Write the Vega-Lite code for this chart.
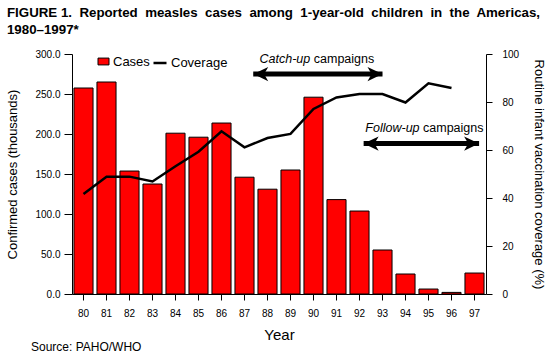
{
  "$schema": "https://vega.github.io/schema/vega-lite/v6.json",
  "padding": {"left": 6, "top": 6, "right": 5, "bottom": 0},
  "background": "white",
  "config": {
    "font": "Liberation Sans",
    "view": {"stroke": null},
    "axis": {"domainColor": "black", "tickColor": "black", "labelColor": "black", "titleColor": "black", "grid": false, "labelFont": "Liberation Sans", "titleFont": "Liberation Sans", "titleFontWeight": "normal"},
    "legend": {"labelFont": "Liberation Sans", "labelColor": "black", "labelFontSize": 13, "labelOffset": 3, "padding": 0},
    "title": {"font": "Liberation Sans", "color": "black"}
  },
  "title": {
    "text": ["FIGURE 1.\u00a0 Reported\u00a0 measles\u00a0 cases\u00a0 among\u00a0 1-year-old\u00a0 children\u00a0 in\u00a0 the\u00a0 Americas,", "1980–1997*"],
    "anchor": "start",
    "frame": "bounds",
    "fontSize": 13.3,
    "fontWeight": "bold",
    "lineHeight": 16.5,
    "offset": 13
  },
  "vconcat": [
    {
      "width": 414,
      "height": 240,
      "title": {
        "text": "Source: PAHO/WHO",
        "orient": "bottom",
        "anchor": "start",
        "frame": "bounds",
        "fontSize": 12,
        "fontWeight": "normal",
        "dx": 24,
        "offset": 0
      },
      "data": {
        "values": [
          {"year": 80, "cases": 257.5, "coverage": 41.7},
          {"year": 81, "cases": 265, "coverage": 48.9},
          {"year": 82, "cases": 153.7, "coverage": 48.9},
          {"year": 83, "cases": 137.5, "coverage": 46.9},
          {"year": 84, "cases": 201, "coverage": 53.2},
          {"year": 85, "cases": 196, "coverage": 59.3},
          {"year": 86, "cases": 213.7, "coverage": 67.8},
          {"year": 87, "cases": 146, "coverage": 61.1},
          {"year": 88, "cases": 131, "coverage": 65},
          {"year": 89, "cases": 155, "coverage": 66.7},
          {"year": 90, "cases": 246, "coverage": 77.1},
          {"year": 91, "cases": 118, "coverage": 81.9},
          {"year": 92, "cases": 103.7, "coverage": 83.3},
          {"year": 93, "cases": 55, "coverage": 83.3},
          {"year": 94, "cases": 25, "coverage": 79.8},
          {"year": 95, "cases": 6.2, "coverage": 87.8},
          {"year": 96, "cases": 2.0, "coverage": 85.8},
          {"year": 97, "cases": 26.2, "coverage": null}
        ]
      },
      "resolve": {"scale": {"x": "independent", "y": "independent"}},
      "layer": [
        {
          "mark": {"type": "bar", "stroke": "black", "strokeWidth": 1},
          "encoding": {
            "x": {
              "field": "year", "type": "ordinal",
              "scale": {"paddingInner": 0.17, "paddingOuter": 0.085},
              "axis": {"title": "Year", "labelAngle": 0, "labelFontSize": 10, "tickSize": 6, "labelPadding": 8, "titleFontSize": 15, "titlePadding": 9}
            },
            "y": {
              "field": "cases", "type": "quantitative",
              "scale": {"domain": [0, 300], "nice": false},
              "axis": {"orient": "left", "title": "Confirmed cases (thousands)", "values": [0, 50, 100, 150, 200, 250, 300], "format": ".1f", "labelFontSize": 10, "tickSize": 8, "labelPadding": 4, "titleFontSize": 13, "titlePadding": 15}
            },
            "fill": {
              "datum": "Cases",
              "scale": {"domain": ["Cases"], "range": ["#ff0000"]},
              "legend": {
                "orient": "none", "legendX": 25, "legendY": 1, "title": null,
                "symbolType": "M-1,-0.62H1V0.62H-1Z", "symbolSize": 121,
                "symbolStrokeColor": "black", "symbolStrokeWidth": 1, "symbolFillColor": "#ff0000"
              }
            }
          }
        },
        {
          "mark": {"type": "line", "strokeWidth": 2.5},
          "encoding": {
            "x": {"field": "year", "type": "quantitative", "scale": {"domain": [79.5, 97.5], "nice": false, "zero": false}, "axis": null},
            "y": {
              "field": "coverage", "type": "quantitative",
              "scale": {"domain": [0, 100], "nice": false},
              "axis": {"orient": "right", "title": "Routine infant vaccination coverage (%)", "values": [0, 20, 40, 60, 80, 100], "labelFontSize": 10, "tickSize": 6, "labelPadding": 10, "titleFontSize": 13, "titlePadding": 13}
            },
            "stroke": {
              "datum": "Coverage",
              "scale": {"domain": ["Coverage"], "range": ["#000000"]},
              "legend": {
                "orient": "none", "legendX": 80, "legendY": 1, "title": null,
                "symbolType": "stroke", "symbolSize": 169, "symbolStrokeWidth": 2.5
              }
            }
          }
        },
        {
          "data": {"values": [
            {"start": 87.38, "end": 93.0, "level": 275},
            {"start": 92.18, "end": 97.2, "level": 188}
          ]},
          "mark": {"type": "rule", "strokeWidth": 5, "color": "black"},
          "encoding": {
            "x": {"field": "start", "type": "quantitative", "scale": {"domain": [79.5, 97.5], "nice": false, "zero": false}, "axis": null},
            "x2": {"field": "end"},
            "y": {"field": "level", "type": "quantitative", "scale": {"domain": [0, 300], "nice": false}, "axis": null}
          }
        },
        {
          "data": {"values": [
            {"tip": 87.38, "level": 275},
            {"tip": 92.18, "level": 188}
          ]},
          "mark": {"type": "point", "shape": "M0,0L2,-0.95L1.45,0L2,0.95Z", "size": 225, "filled": true, "color": "black", "opacity": 1},
          "encoding": {
            "x": {"field": "tip", "type": "quantitative", "scale": {"domain": [79.5, 97.5], "nice": false, "zero": false}, "axis": null},
            "y": {"field": "level", "type": "quantitative", "scale": {"domain": [0, 300], "nice": false}, "axis": null}
          }
        },
        {
          "data": {"values": [
            {"tip": 93.0, "level": 275},
            {"tip": 97.2, "level": 188}
          ]},
          "mark": {"type": "point", "shape": "M0,0L-2,-0.95L-1.45,0L-2,0.95Z", "size": 225, "filled": true, "color": "black", "opacity": 1},
          "encoding": {
            "x": {"field": "tip", "type": "quantitative", "scale": {"domain": [79.5, 97.5], "nice": false, "zero": false}, "axis": null},
            "y": {"field": "level", "type": "quantitative", "scale": {"domain": [0, 300], "nice": false}, "axis": null}
          }
        },
        {
          "data": {"values": [
            {"label": "Catch-up", "pos": 89.86, "level": 288.5},
            {"label": "Follow-up", "pos": 94.61, "level": 202}
          ]},
          "mark": {"type": "text", "align": "right", "baseline": "alphabetic", "fontSize": 12.5, "fontStyle": "italic", "color": "black"},
          "encoding": {
            "x": {"field": "pos", "type": "quantitative", "scale": {"domain": [79.5, 97.5], "nice": false, "zero": false}, "axis": null},
            "y": {"field": "level", "type": "quantitative", "scale": {"domain": [0, 300], "nice": false}, "axis": null},
            "text": {"field": "label"}
          }
        },
        {
          "data": {"values": [
            {"label": "campaigns", "pos": 89.86, "level": 288.5},
            {"label": "campaigns", "pos": 94.61, "level": 202}
          ]},
          "mark": {"type": "text", "align": "left", "baseline": "alphabetic", "fontSize": 12.5, "dx": 3.5, "color": "black"},
          "encoding": {
            "x": {"field": "pos", "type": "quantitative", "scale": {"domain": [79.5, 97.5], "nice": false, "zero": false}, "axis": null},
            "y": {"field": "level", "type": "quantitative", "scale": {"domain": [0, 300], "nice": false}, "axis": null},
            "text": {"field": "label"}
          }
        }
      ]
    }
  ]
}
